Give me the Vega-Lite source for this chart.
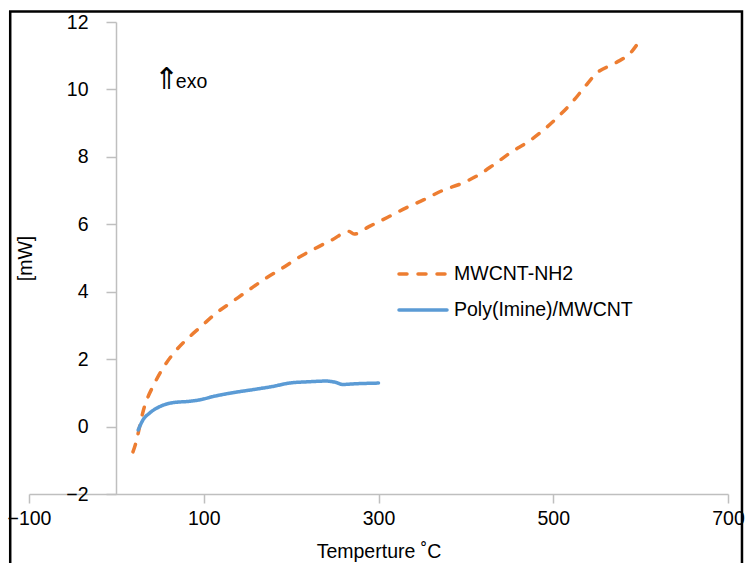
{
  "$schema": "https://vega.github.io/schema/vega-lite/v6.json",
  "width": 699,
  "height": 472,
  "autosize": {"type": "none"},
  "padding": {"left": 29, "top": 22, "right": 20, "bottom": 69},
  "background": "white",
  "config": {
    "view": {"stroke": null},
    "font": "Liberation Sans",
    "axis": {
      "grid": false,
      "domainColor": "#bfbfbf",
      "domainWidth": 1.5,
      "tickColor": "#bfbfbf",
      "tickWidth": 1.5,
      "labelColor": "#000000",
      "labelFont": "Liberation Sans",
      "labelFontSize": 19.5,
      "titleColor": "#000000",
      "titleFont": "Liberation Sans",
      "titleFontSize": 19.5,
      "titleFontWeight": "normal"
    }
  },
  "datasets": {
    "dsc": [
      {"series": "MWCNT-NH2", "t": 19, "p": -0.75},
      {"series": "MWCNT-NH2", "t": 21, "p": -0.6},
      {"series": "MWCNT-NH2", "t": 32, "p": 0.58},
      {"series": "MWCNT-NH2", "t": 44, "p": 1.3},
      {"series": "MWCNT-NH2", "t": 57, "p": 1.88},
      {"series": "MWCNT-NH2", "t": 69, "p": 2.28},
      {"series": "MWCNT-NH2", "t": 84, "p": 2.67},
      {"series": "MWCNT-NH2", "t": 97, "p": 2.97},
      {"series": "MWCNT-NH2", "t": 114, "p": 3.36},
      {"series": "MWCNT-NH2", "t": 133, "p": 3.71},
      {"series": "MWCNT-NH2", "t": 152, "p": 4.06},
      {"series": "MWCNT-NH2", "t": 171, "p": 4.4},
      {"series": "MWCNT-NH2", "t": 190, "p": 4.7},
      {"series": "MWCNT-NH2", "t": 209, "p": 5.02},
      {"series": "MWCNT-NH2", "t": 228, "p": 5.29},
      {"series": "MWCNT-NH2", "t": 247, "p": 5.54},
      {"series": "MWCNT-NH2", "t": 266, "p": 5.79},
      {"series": "MWCNT-NH2", "t": 272, "p": 5.71},
      {"series": "MWCNT-NH2", "t": 289, "p": 5.93},
      {"series": "MWCNT-NH2", "t": 310, "p": 6.2},
      {"series": "MWCNT-NH2", "t": 331, "p": 6.48},
      {"series": "MWCNT-NH2", "t": 352, "p": 6.73},
      {"series": "MWCNT-NH2", "t": 373, "p": 7.0},
      {"series": "MWCNT-NH2", "t": 396, "p": 7.22},
      {"series": "MWCNT-NH2", "t": 415, "p": 7.47},
      {"series": "MWCNT-NH2", "t": 432, "p": 7.77},
      {"series": "MWCNT-NH2", "t": 452, "p": 8.14},
      {"series": "MWCNT-NH2", "t": 472, "p": 8.46},
      {"series": "MWCNT-NH2", "t": 489, "p": 8.8},
      {"series": "MWCNT-NH2", "t": 506, "p": 9.2},
      {"series": "MWCNT-NH2", "t": 521, "p": 9.6},
      {"series": "MWCNT-NH2", "t": 535, "p": 10.04},
      {"series": "MWCNT-NH2", "t": 550, "p": 10.49},
      {"series": "MWCNT-NH2", "t": 571, "p": 10.78},
      {"series": "MWCNT-NH2", "t": 590, "p": 11.13},
      {"series": "MWCNT-NH2", "t": 595, "p": 11.3},
      {"series": "Poly(Imine)/MWCNT", "t": 25, "p": -0.1},
      {"series": "Poly(Imine)/MWCNT", "t": 30.5, "p": 0.2},
      {"series": "Poly(Imine)/MWCNT", "t": 38, "p": 0.4},
      {"series": "Poly(Imine)/MWCNT", "t": 49.5, "p": 0.59},
      {"series": "Poly(Imine)/MWCNT", "t": 65, "p": 0.71},
      {"series": "Poly(Imine)/MWCNT", "t": 84, "p": 0.75},
      {"series": "Poly(Imine)/MWCNT", "t": 95, "p": 0.79},
      {"series": "Poly(Imine)/MWCNT", "t": 114, "p": 0.91},
      {"series": "Poly(Imine)/MWCNT", "t": 137, "p": 1.02},
      {"series": "Poly(Imine)/MWCNT", "t": 160, "p": 1.11},
      {"series": "Poly(Imine)/MWCNT", "t": 179, "p": 1.19},
      {"series": "Poly(Imine)/MWCNT", "t": 198, "p": 1.29},
      {"series": "Poly(Imine)/MWCNT", "t": 221, "p": 1.33},
      {"series": "Poly(Imine)/MWCNT", "t": 240, "p": 1.35},
      {"series": "Poly(Imine)/MWCNT", "t": 251, "p": 1.31},
      {"series": "Poly(Imine)/MWCNT", "t": 259, "p": 1.25},
      {"series": "Poly(Imine)/MWCNT", "t": 274, "p": 1.27},
      {"series": "Poly(Imine)/MWCNT", "t": 300, "p": 1.29}
    ]
  },
  "layer": [
    {
      "data": {"values": [{"note": "frame"}]},
      "mark": {"type": "rect", "fill": "transparent", "stroke": "#000000", "strokeWidth": 2.5, "clip": false},
      "encoding": {
        "x": {"datum": -121.5, "type": "quantitative", "scale": {"domain": [-100, 700], "nice": false, "zero": false}},
        "x2": {"datum": 716},
        "y": {"datum": 12.31, "type": "quantitative", "scale": {"domain": [-2, 12], "nice": false, "zero": false}},
        "y2": {"datum": -4.6}
      }
    },
    {
      "data": {"name": "dsc"},
      "mark": {"type": "line", "strokeWidth": 3.5, "strokeCap": "round", "interpolate": "monotone", "clip": false},
      "encoding": {
        "x": {
          "field": "t",
          "type": "quantitative",
          "scale": {"domain": [-100, 700], "nice": false, "zero": false},
          "axis": {
            "title": "Temperture ˚C",
            "values": [-100, 100, 300, 500, 700],
            "tickSize": 9,
            "labelPadding": 6,
            "labelFlush": false,
            "labelOverlap": false,
            "titlePadding": 15
          }
        },
        "y": {
          "field": "p",
          "type": "quantitative",
          "scale": {"domain": [-2, 12], "nice": false, "zero": false},
          "axis": {
            "title": "[mW]",
            "values": [-2, 0, 2, 4, 6, 8, 10, 12],
            "offset": -87,
            "tickSize": 10,
            "labelPadding": 18,
            "labelFlush": false,
            "labelOverlap": false,
            "titlePadding": 30
          }
        },
        "color": {
          "field": "series",
          "type": "nominal",
          "scale": {"domain": ["MWCNT-NH2", "Poly(Imine)/MWCNT"], "range": ["#ED7D31", "#5B9BD5"]},
          "legend": {
            "title": null,
            "orient": "none",
            "legendX": 368,
            "legendY": 226,
            "padding": 0,
            "symbolType": "stroke",
            "symbolSize": 2304,
            "symbolStrokeWidth": 3.5,
            "labelFont": "Liberation Sans",
            "labelFontSize": 19.5,
            "labelColor": "#000000",
            "labelOffset": 5,
            "rowPadding": 0,
            "labelLimit": 400,
            "encode": {"symbols": {"update": {"strokeCap": {"value": "round"}}}}
          }
        },
        "strokeDash": {
          "field": "series",
          "type": "nominal",
          "scale": {"domain": ["MWCNT-NH2", "Poly(Imine)/MWCNT"], "range": [[8, 11], [1, 0]]},
          "legend": null
        }
      }
    },
    {
      "data": {"values": [{"note": "exo arrow"}]},
      "mark": {"type": "text", "text": "⇑", "align": "left", "baseline": "alphabetic", "font": "DejaVu Sans", "fontSize": 30, "fontWeight": 300, "color": "#000000"},
      "encoding": {
        "x": {"datum": 43, "type": "quantitative"},
        "y": {"datum": 10.0, "type": "quantitative"}
      }
    },
    {
      "data": {"values": [{"note": "exo"}]},
      "mark": {"type": "text", "text": "exo", "align": "left", "baseline": "alphabetic", "font": "Liberation Sans", "fontSize": 19.5, "color": "#000000"},
      "encoding": {
        "x": {"datum": 68, "type": "quantitative"},
        "y": {"datum": 10.05, "type": "quantitative"}
      }
    }
  ]
}
